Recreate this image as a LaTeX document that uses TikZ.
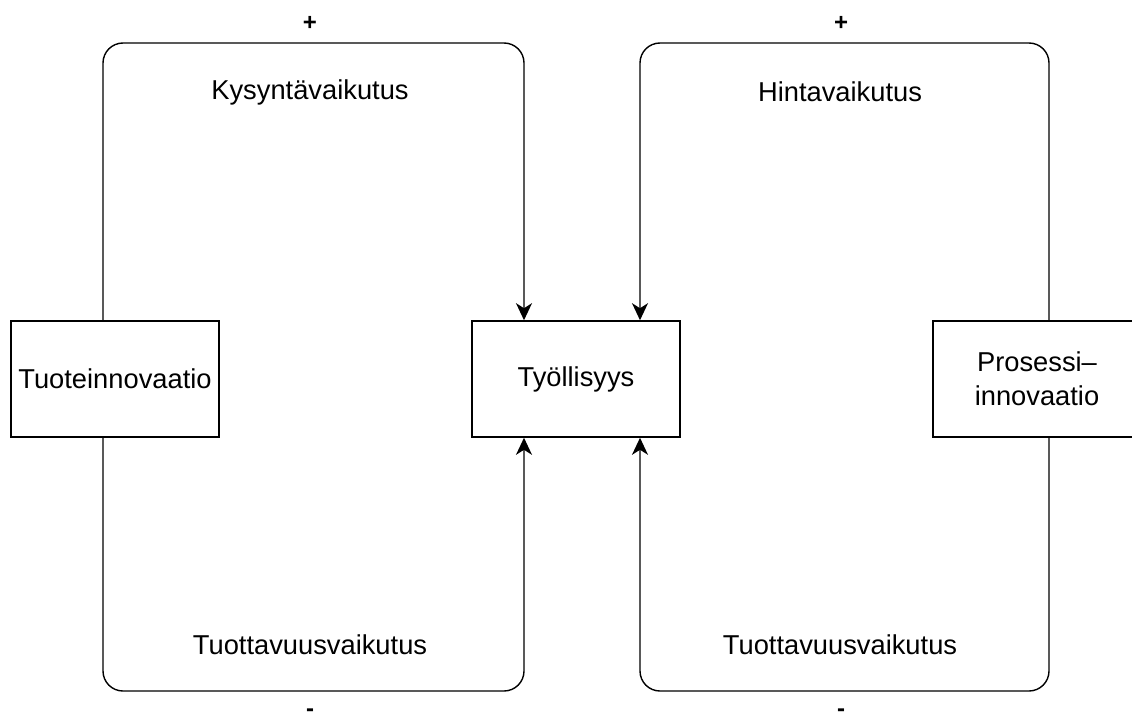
\documentclass[tikz,border=0pt]{standalone}
\usepackage{fontspec}
\setmainfont{Liberation Sans}
\usetikzlibrary{arrows.meta}
\begin{document}
\begin{tikzpicture}[x=1pt,y=-1pt,
  box/.style={draw, line width=1.6pt, minimum width=208pt, minimum height=116pt,
    inner sep=0pt, align=center, font=\fontsize{27.3}{34}\selectfont},
  loopline/.style={draw, line width=1.4pt},
  arr/.style={-{Stealth[length=17pt,width=16pt,inset=5pt]}},
  lbl/.style={font=\fontsize{27.3}{34}\selectfont},
  sign/.style={inner sep=0pt, font=\fontsize{24}{28}\selectfont\bfseries}]
\useasboundingbox (0,0) rectangle (1132,720);
\begin{scope}
\clip (0,0) rectangle (1132,720);
% the three boxes
\node[box] (tuote) at (115,379) {Tuoteinnovaatio};
\node[box] (tyo) at (576,379) {Työllisyys};
\node[box] (prosessi) at (1037,379) {Prosessi–\\innovaatio};
\end{scope}
% levels of the upper and lower runs
\coordinate (top) at (0,43);
\coordinate (bot) at (0,691);
% product innovation loop
\draw[loopline,arr] ([xshift=-12pt]tuote.north) {[rounded corners=20pt] -- ([xshift=-12pt]tuote.north |- top) -| ([xshift=-52pt]tyo.north)};
\draw[loopline,arr] ([xshift=-12pt]tuote.south) {[rounded corners=20pt] -- ([xshift=-12pt]tuote.south |- bot) -| ([xshift=-52pt]tyo.south)};
% process innovation loop
\draw[loopline,arr] ([xshift=12pt]prosessi.north) {[rounded corners=20pt] -- ([xshift=12pt]prosessi.north |- top) -| ([xshift=64pt]tyo.north)};
\draw[loopline,arr] ([xshift=12pt]prosessi.south) {[rounded corners=20pt] -- ([xshift=12pt]prosessi.south |- bot) -| ([xshift=64pt]tyo.south)};
% effect labels
\node[lbl] (kys) at (310,92) {Kysyntävaikutus};
\node[lbl] (hinta) at (840,92) {Hintavaikutus};
\node[lbl] (tuot1) at (310,645) {Tuottavuusvaikutus};
\node[lbl] (tuot2) at (840,645) {Tuottavuusvaikutus};
% signs
\node[sign] (p1) at (310,23) {+};
\node[sign] (p2) at (841,23) {+};
\node[sign] (m1) at (310,713) {-};
\node[sign] (m2) at (841,713) {-};
\end{tikzpicture}
\end{document}
